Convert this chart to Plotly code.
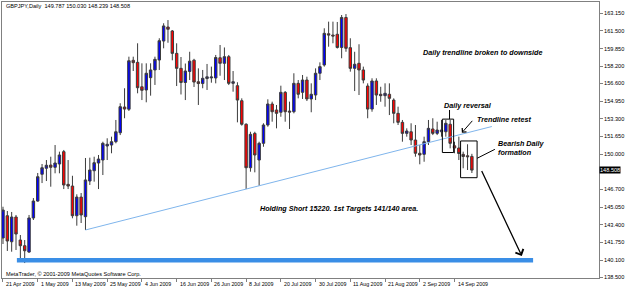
import plotly.graph_objects as go

# ---------------- data ----------------
dates = ["21 Apr 2009", "1 May 2009", "13 May 2009", "25 May 2009", "4 Jun 2009",
         "16 Jun 2009", "26 Jun 2009", "8 Jul 2009", "20 Jul 2009", "30 Jul 2009",
         "11 Aug 2009", "21 Aug 2009", "2 Sep 2009", "14 Sep 2009"]
date_bar_index = [0, 8, 16, 24, 32, 40, 48, 56, 64, 72, 80, 88, 96, 104]

opens = [142.17, 144.25, 141.82, 144.13, 141.98, 141.45, 140.86, 144.04, 145.62, 148.12,
         148.68, 148.98, 148.77, 149.08, 150.23, 147.18, 147.02, 144.25, 145.99, 144.16,
         147.49, 148.45, 149.17, 149.45, 150.76, 150.85, 151.16, 152.00, 154.40, 154.19,
         158.76, 158.57, 156.29, 155.99, 157.14, 157.86, 158.79, 160.56, 161.87, 161.50,
         159.41, 158.01, 156.69, 157.72, 158.77, 156.76, 156.59, 157.06, 157.12, 157.11,
         159.00, 158.48, 159.10, 156.61, 156.39, 154.99, 152.79, 148.73, 151.94, 149.45,
         151.01, 152.72, 154.68, 154.12, 153.91, 155.77, 154.02, 153.96, 156.61, 155.77,
         156.92, 155.15, 155.52, 157.55, 158.32, 161.24, 161.12, 161.19, 159.96, 162.76,
         159.94, 158.01, 158.48, 157.86, 156.36, 154.21, 156.83, 155.59, 155.46, 155.59,
         155.05, 153.81, 152.97, 151.94, 152.09, 151.32, 150.08, 149.98, 151.16, 152.35,
         151.94, 152.09, 152.09, 152.79, 150.78, 150.57, 149.98, 149.85, 149.787]
highs = [145.09, 144.69, 144.60, 144.32, 142.45, 141.98, 144.32, 145.90, 148.24, 149.08,
         149.45, 149.76, 150.85, 150.23, 150.39, 149.45, 147.98, 146.25, 146.37, 149.64,
         149.67, 149.76, 149.92, 151.16, 151.48, 151.63, 153.19, 154.75, 156.15, 159.10,
         159.10, 160.35, 158.48, 158.48, 158.48, 159.10, 160.82, 162.22, 162.52, 161.59,
         160.35, 159.07, 158.46, 159.56, 158.90, 158.01, 157.86, 158.42, 158.17, 159.26,
         160.19, 159.96, 159.26, 157.76, 156.71, 155.21, 152.88, 152.09, 152.09, 151.16,
         152.88, 155.12, 154.90, 154.59, 156.39, 155.89, 154.90, 157.55, 156.92, 157.39,
         157.23, 156.61, 158.01, 158.57, 161.75, 162.37, 162.37, 162.34, 162.99, 163.08,
         160.82, 159.56, 160.26, 158.17, 156.61, 157.08, 157.08, 156.29, 156.61, 156.61,
         155.21, 154.43, 153.19, 152.41, 152.88, 152.72, 150.85, 151.63, 153.19, 153.35,
         153.03, 153.19, 153.19, 153.19, 151.16, 151.63, 150.23, 150.92, 150.030]
lows = [141.61, 140.96, 140.89, 141.05, 140.30, 139.83, 140.77, 143.85, 145.56, 147.30,
        147.49, 146.96, 148.21, 148.21, 146.74, 146.74, 144.01, 143.32, 143.57, 142.92,
        147.12, 147.43, 146.74, 148.05, 149.45, 150.08, 151.01, 151.78, 153.35, 154.03,
        157.76, 155.68, 155.05, 154.84, 155.46, 156.46, 157.86, 159.88, 160.40, 158.76,
        156.36, 155.57, 155.05, 156.92, 156.27, 154.59, 156.15, 155.99, 156.67, 156.61,
        157.32, 156.92, 156.45, 155.83, 152.97, 152.66, 146.74, 148.36, 148.30, 147.05,
        150.69, 152.56, 153.03, 152.41, 153.49, 153.03, 152.35, 153.81, 155.21, 155.15,
        154.96, 153.91, 155.05, 156.92, 158.17, 160.03, 160.35, 159.86, 158.95, 159.56,
        157.70, 155.89, 155.52, 156.61, 153.35, 153.96, 154.59, 154.89, 154.43, 153.65,
        152.88, 152.72, 151.16, 151.63, 150.85, 149.76, 149.05, 149.29, 150.85, 151.78,
        151.78, 151.63, 151.63, 150.54, 150.08, 149.45, 148.68, 148.52, 148.239]
closes = [144.78, 141.89, 144.13, 142.54, 141.45, 140.98, 144.04, 145.62, 147.89, 148.73,
          148.96, 148.77, 149.17, 149.92, 147.12, 147.02, 144.25, 145.99, 144.32, 147.59,
          148.52, 149.20, 149.54, 151.01, 150.92, 151.16, 152.09, 154.43, 154.21, 158.72,
          158.54, 156.20, 155.96, 157.55, 157.86, 158.85, 160.59, 161.97, 161.66, 159.41,
          158.01, 156.69, 157.76, 158.68, 156.73, 156.59, 157.08, 157.22, 157.20, 159.02,
          158.48, 159.10, 156.61, 156.76, 155.05, 152.79, 148.73, 151.85, 149.92, 151.01,
          152.72, 154.68, 153.96, 153.81, 155.77, 153.96, 153.93, 156.61, 155.59, 156.92,
          155.15, 155.59, 157.55, 158.17, 161.28, 161.12, 161.03, 159.96, 162.76, 159.88,
          158.01, 158.39, 157.86, 156.92, 154.21, 156.83, 155.52, 155.46, 155.68, 155.21,
          153.81, 152.97, 151.94, 152.16, 151.32, 150.08, 149.92, 151.16, 152.41, 151.94,
          152.25, 152.25, 152.88, 151.01, 150.57, 150.06, 149.78, 149.76, 148.508]

price_ticks = [163.15, 161.50, 159.85, 158.20, 156.60, 154.95, 153.30, 151.65, 150.00,
               146.70, 145.05, 143.40, 141.75, 140.10, 138.50]
price_tick_labels = ["163.150", "161.500", "159.850", "158.200", "156.600", "154.950",
                     "153.300", "151.650", "150.000", "146.700", "145.050", "143.400",
                     "141.750", "140.100", "138.500"]

title_text = "GBPJPY,Daily  149.787 150.030 148.239 148.508"
last_price = 148.508
target_level = 140.10
trend_start = (19, 142.92)
trend_end = (112.6, 152.58)

bars = list(range(len(opens)))

# ---------------- figure ----------------
fig = go.Figure()
fig.add_trace(go.Candlestick(
    x=bars, open=opens, high=highs, low=lows, close=closes,
    increasing=dict(fillcolor="#0000ff", line=dict(color="#3c3c3c", width=1)),
    decreasing=dict(fillcolor="#ff0000", line=dict(color="#3c3c3c", width=1)),
    whiskerwidth=0, showlegend=False, hoverinfo="skip"))

shapes = []
# target horizontal line
shapes.append(dict(type="line", xref="x", yref="y", x0=3.2, x1=122.1,
                   y0=target_level, y1=target_level,
                   line=dict(color="#3a8ee6", width=4.5)))
# trendline
shapes.append(dict(type="line", xref="x", yref="y", x0=trend_start[0], y0=trend_start[1],
                   x1=trend_end[0], y1=trend_end[1],
                   line=dict(color="#7fb5ec", width=1)))
# boxes
shapes.append(dict(type="rect", xref="x", yref="y", x0=101.2, x1=103.8, y0=150.15, y1=153.27,
                   line=dict(color="#000000", width=1)))
shapes.append(dict(type="rect", xref="x", yref="y", x0=105.4, x1=109.2, y0=147.80, y1=151.23,
                   line=dict(color="#000000", width=1)))
# connectors
shapes.append(dict(type="line", xref="x", yref="y", x0=102.85, x1=102.85, y0=153.27, y1=154.12,
                   line=dict(color="#000000", width=1)))
shapes.append(dict(type="line", xref="x", yref="y", x0=109.2, x1=113.3, y0=149.61, y1=150.45,
                   line=dict(color="#000000", width=1)))

ann = []
small = dict(family="Liberation Sans, Arial", size=5.3, color="#000000")
header = dict(family="Liberation Sans, Arial", size=5.6, color="#000000")
label_font = dict(family="Liberation Sans, Arial", size=7.2, color="#000000")

ann.append(dict(text=title_text, xref="paper", yref="paper", x=0.004, y=0.985,
                xanchor="left", yanchor="middle", showarrow=False, font=header))
ann.append(dict(text="MetaTrader, \u00a9 2001-2009 MetaQuotes Software Corp.", xref="paper",
                yref="paper", x=0.004, y=0.016, xanchor="left", yanchor="middle",
                showarrow=False, font=header))
for i, d in zip(date_bar_index, dates):
    ann.append(dict(text=d, xref="x", yref="paper", x=i, y=-0.021, xanchor="left",
                    yanchor="middle", xshift=1, showarrow=False, font=small))
ann.append(dict(text="148.508", xref="paper", yref="y", x=1.0, y=last_price,
                xanchor="left", yanchor="middle", showarrow=False, bgcolor="#000000",
                font=dict(family="Liberation Sans, Arial", size=5.6, color="#ffffff"),
                borderpad=0))

ann.append(dict(text="<b><i>Daily trendline broken to downside</i></b>", xref="x", yref="y",
                x=110.5, y=159.49, xanchor="center", yanchor="middle", showarrow=False,
                font=label_font))
ann.append(dict(text="<b><i>Daily reversal</i></b>", xref="x", yref="y",
                x=101.2, y=154.54, xanchor="left", yanchor="middle", showarrow=False,
                font=label_font))
ann.append(dict(text="<b><i>Trendline retest</i></b>", xref="x", yref="y",
                x=108.8, y=153.23, xanchor="left", yanchor="middle", showarrow=False,
                font=label_font))
ann.append(dict(text="<b><i>Bearish Daily<br>formation</i></b>", xref="x", yref="y",
                x=113.6, y=150.57, xanchor="left", yanchor="middle", showarrow=False,
                align="left", font=label_font))
ann.append(dict(text="<b><i>Holding Short 15220. 1st Targets 141/140 area.</i></b>",
                xref="x", yref="y", x=58.8, y=144.88, xanchor="left", yanchor="middle",
                showarrow=False, font=label_font))
# arrows
ann.append(dict(text="", xref="x", yref="y", axref="x", ayref="y",
                x=105.7, y=152.0, ax=108.4, ay=153.25, showarrow=True,
                arrowhead=4, arrowsize=1.1, arrowwidth=1, arrowcolor="#000000"))
ann.append(dict(text="", xref="x", yref="y", axref="x", ayref="y",
                x=119.5, y=140.49, ax=110.1, ay=148.56, showarrow=True,
                arrowhead=4, arrowsize=1.3, arrowwidth=1.3, arrowcolor="#000000"))

fig.update_layout(
    width=625, height=288,
    margin=dict(l=1, r=21, t=2, b=10),
    paper_bgcolor="#ffffff", plot_bgcolor="#ffffff",
    shapes=shapes, annotations=ann,
    boxgap=0.2,
    xaxis=dict(range=[-0.228, 137.28], showgrid=False, zeroline=False,
               rangeslider=dict(visible=False), tickmode="array",
               tickvals=date_bar_index, showticklabels=False, ticks="outside",
               ticklen=3, tickcolor="#808080", showline=True, mirror=True,
               linecolor="#808080", linewidth=1),
    yaxis=dict(range=[138.435, 164.205], side="right", showgrid=False, zeroline=False,
               tickmode="array", tickvals=price_ticks, ticktext=price_tick_labels,
               ticks="outside", ticklen=3, tickcolor="#808080",
               tickfont=header, showline=True, mirror=True,
               linecolor="#808080", linewidth=1),
)

fig.write_html("out.html")
